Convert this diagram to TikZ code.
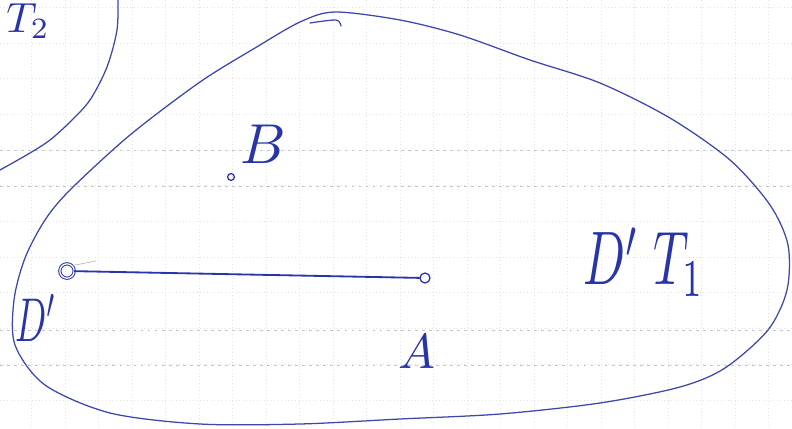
\documentclass[tikz,border=0pt]{standalone}
\usepackage{tikz}
\usetikzlibrary{positioning,calc}
\definecolor{ink}{RGB}{60,72,172}
\definecolor{inkdark}{RGB}{40,52,168}
\tikzset{
  gridfaint/.style={gray!22,line width=0.5pt,dotted},
  gridmid/.style={gray!45,line width=0.5pt,dash pattern=on 2pt off 3pt},
  pen/.style={ink,line width=0.9pt,line cap=round,line join=round},
  seg/.style={inkdark,line width=1.3pt,line cap=round},
  ptsmall/.style={circle,draw=inkdark,line width=0.9pt,inner sep=0pt,minimum size=0.17cm},
  ptdbl/.style={circle,draw=inkdark,line width=0.7pt,double=white,double distance=0.9pt,inner sep=0pt,minimum size=0.36cm},
  hand/.style={text=inkdark,inner sep=0pt},
}
\begin{document}
\begin{tikzpicture}[x=0.025cm,y=-0.025cm]
  \useasboundingbox (0,0) rectangle (792,429);
  \clip (0,0) rectangle (792,429);
  % squared paper
  \foreach \k in {0,...,11} {\draw[gridfaint] (0,7.2+35.7*\k) -- (792,7.2+35.7*\k);}
  \foreach \k in {0,...,23} {\draw[gridfaint] (31.5+33.5*\k,0) -- (31.5+33.5*\k,429);}
  \foreach \yy in {150,186,330,365} {\draw[gridmid] (0,\yy) -- (792,\yy);}

  % boundary of T_2
  \draw[pen] plot[smooth] coordinates {(118,-3) (117,30) (107,67) (90,100) (70,122) (50,140) (30,153) (0,170) (-4,172)};
  % boundary of T_1
  \draw[pen] plot[smooth cycle] coordinates {(335,12) (400,20) (460,35) (530,60) (600,83) (670,118)
    (730,160) (770,205) (788,245) (787,290) (768,330) (725,368) (680,387) (600,403) (500,414)
    (400,419) (300,424) (200,424) (110,413) (45,385) (15,345) (14,300) (25,258) (45,220)
    (70,190) (130,135) (200,82) (255,48) (300,22)};
  \draw[pen] plot[smooth] coordinates {(310,23) (336,20) (341,26)};

  % points
  \node[ptdbl] (O) at (67,271) {};
  \node[ptsmall,minimum size=0.25cm] (A) at (425,278) {};
  \node[ptsmall] (B) at (231,177) {};
  \draw[seg] (O) -- (A);
  \coordinate (Otick) at (96,261);
  \draw[gray!55,line width=0.5pt] (O.north east) -- (Otick);

  % labels
  \node[hand,anchor=base west] (lT2) at (6,32) {\scalebox{3}{$T_2$}};
  \node[hand,anchor=base west] (lB) at (240,163) {\scalebox{4}{$B$}};
  \node[hand,anchor=base] (lA) at (417,368) {\scalebox{3.5}{$A$}};
  \node[hand] (lO) at (36,318) {\scalebox{2.6}[4.4]{$D'$}};
  \node[hand] (lT1) at (644,262) {\scalebox{3.5}[5.4]{$D'\;T_1$}};
\end{tikzpicture}
\end{document}
